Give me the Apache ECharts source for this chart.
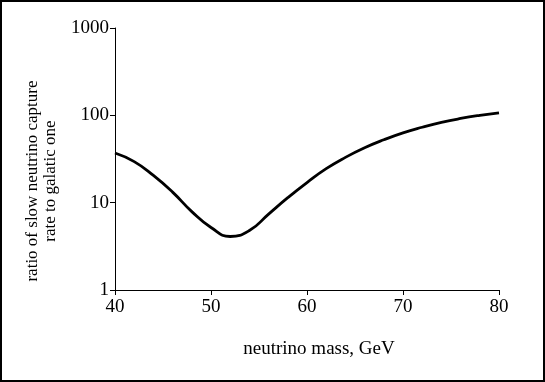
<!DOCTYPE html>
<html>
<head>
<meta charset="utf-8">
<script src="https://cdn.jsdelivr.net/npm/echarts@6/dist/echarts.min.js"></script>
<style>
  html, body { margin: 0; padding: 0; background: #fff; }
  #chart { width: 545px; height: 382px; }
</style>
</head>
<body>
<div id="chart"></div>
<script>
// neutrino mass (GeV) and ratio
const massValues = [40, 42, 44, 46, 48, 50, 52, 54, 56, 58, 60, 62, 64, 66, 68, 70, 72, 74, 76, 78, 80];
const ratioValues = [37, 29.5, 20.5, 13.2, 7.9, 5.2, 4.1, 4.8, 7.4, 11.4, 17, 24.5, 33, 42.5, 52.5, 63, 73, 83, 92, 100, 107];
const xTicks = [40, 50, 60, 70, 80];
const yTicks = [1, 10, 100, 1000];

const font = "'Liberation Serif', 'DejaVu Serif', serif";

const chart = echarts.init(document.getElementById("chart"));

chart.setOption({
  backgroundColor: "#fff",
  animation: false,
  grid: { left: 115, right: 46, top: 28, bottom: 92 },
  xAxis: {
    type: "value",
    min: xTicks[0],
    max: xTicks[xTicks.length - 1],
    interval: 10,
    axisLine: { lineStyle: { color: "#000", width: 1 } },
    axisTick: { show: true, length: 5, lineStyle: { color: "#000" } },
    splitLine: { show: false },
    axisLabel: { color: "#000", fontFamily: font, fontSize: 19, margin: 8 },
  },
  yAxis: {
    type: "log",
    logBase: 10,
    min: yTicks[0],
    max: yTicks[yTicks.length - 1],
    axisLine: { show: true, lineStyle: { color: "#000", width: 1 } },
    axisTick: { show: true, length: 5, lineStyle: { color: "#000" } },
    minorTick: { show: false },
    splitLine: { show: false },
    axisLabel: {
      color: "#000",
      fontFamily: font,
      fontSize: 19,
      margin: 6,
      formatter: (v) => String(Math.round(v)),
    },
  },
  graphic: [
    {
      type: "rect",
      shape: { x: 1, y: 1, width: 543, height: 380 },
      style: { fill: null, stroke: "#000", lineWidth: 2 },
      silent: true,
    },
    {
      type: "text",
      x: 319,
      y: 349,
      style: {
        text: "neutrino mass, GeV",
        fill: "#000",
        font: "19px " + font,
        textAlign: "center",
        textVerticalAlign: "middle",
      },
    },
    {
      type: "text",
      x: 42,
      y: 181,
      rotation: Math.PI / 2,
      style: {
        text: "ratio of slow neutrino capture\nrate to galatic one",
        fill: "#000",
        font: "17px " + font,
        lineHeight: 18,
        textAlign: "center",
        textVerticalAlign: "middle",
      },
    },
  ],
  series: [
    {
      type: "line",
      data: massValues.map((m, i) => [m, ratioValues[i]]),
      smooth: 0.5,
      showSymbol: false,
      lineStyle: { color: "#000", width: 2.8 },
    },
  ],
});
</script>
</body>
</html>
